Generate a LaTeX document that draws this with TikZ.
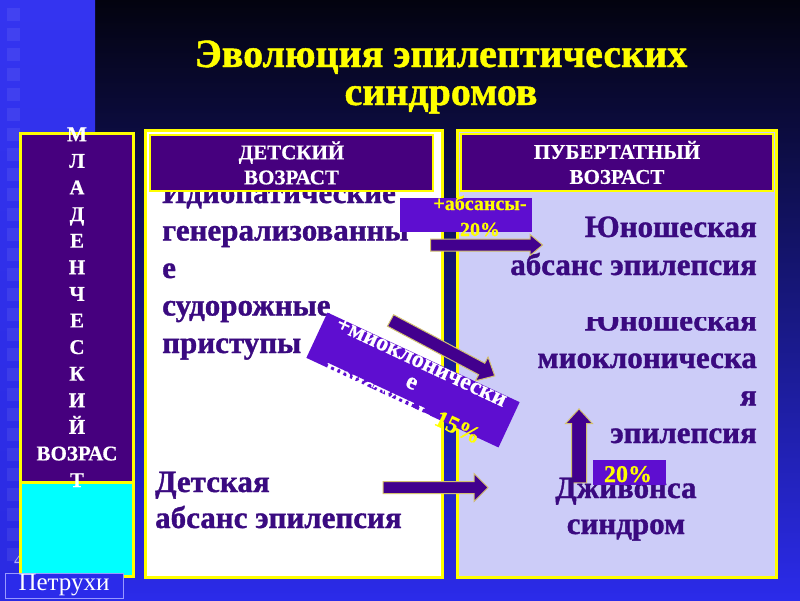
\documentclass[tikz,border=0pt]{standalone}
\usepackage{fontspec}
\setmainfont{Liberation Serif}
\newfontfamily\heavy{Liberation Serif}[BoldFeatures={FakeBold=1.2}]
\newfontfamily\semiheavy{Liberation Serif}[BoldFeatures={FakeBold=0.6}]
\usetikzlibrary{shapes.arrows}
\definecolor{bgtop}{HTML}{03030F}
\definecolor{bgmid}{HTML}{10105A}
\definecolor{bgbot}{HTML}{2B2BEA}
\definecolor{striptop}{HTML}{3434F0}
\definecolor{stripmid}{HTML}{16166E}
\definecolor{stripbot}{HTML}{2A2AE2}
\definecolor{boxpurple}{HTML}{46007E}
\definecolor{txtpurple}{HTML}{3A0A80}
\definecolor{violet}{HTML}{5E0ED0}
\definecolor{lavender}{HTML}{CCCCF8}
\definecolor{aqua}{HTML}{00FFFF}
\definecolor{arrowfill}{HTML}{42008E}
\definecolor{arrowedge}{HTML}{D2C070}
\definecolor{ylw}{HTML}{FFFF00}
\tikzset{
  panel/.style={draw=ylw, line width=3pt, inner sep=0pt},
  header/.style={draw=ylw, line width=2pt, fill=boxpurple, text=white, align=center, inner sep=0pt,
    font=\semiheavy\bfseries\fontsize{21}{25}\selectfont},
  bigtxt/.style={text=txtpurple, inner sep=0pt, font=\heavy\bfseries\fontsize{31}{37.5}\selectfont},
  lblbox/.style={fill=violet, inner sep=0pt},
  ylwtxt/.style={text=ylw, inner sep=0pt, align=center},
  blockarrow/.style={single arrow, draw=arrowedge, fill=arrowfill, line width=1pt,
    inner xsep=0pt, single arrow head indent=0pt},
}
\begin{document}
\begin{tikzpicture}[x=1pt,y=-1pt]
\useasboundingbox (0,0) rectangle (800,600);
% background
\shade[top color=bgtop, middle color=bgmid, bottom color=bgbot] (0,0) rectangle (800,600);
\shade[top color=striptop, middle color=stripmid, bottom color=stripbot] (0,0) rectangle (95,600);
\foreach \i in {0,...,27} \fill[white, opacity=0.07] (7,{8+20*\i}) rectangle (20,{21+20*\i});
\node[text=white!70!blue, inner sep=0pt, anchor=base west, font=\fontsize{20}{20}\selectfont] (slidenum) at (14,566) {4};
% title (anchor base = last line)
\node[ylwtxt, anchor=base, font=\heavy\bfseries\fontsize{40}{38}\selectfont] (title) at (441,105)
  {Эволюция эпилептических\\синдромов};
% left panel
\node[panel, fill=aqua, minimum width=113pt, minimum height=94pt] (infcyan) at (76.5,529) {};
\node[panel, fill=boxpurple, minimum width=113pt, minimum height=349pt] (infant) at (76.5,307.5) {};
\node[text=white, inner sep=0pt, anchor=base, align=center, font=\semiheavy\bfseries\fontsize{21}{26.6}\selectfont] (inftxt) at (77,487)
  {М\\Л\\А\\Д\\Е\\Н\\Ч\\Е\\С\\К\\И\\Й\\ВОЗРАС\\Т};
% middle and right panels
\node[panel, fill=white, minimum width=297pt, minimum height=447pt] (child) at (293.5,353.5) {};
\node[panel, fill=lavender, minimum width=319pt, minimum height=447pt] (puber) at (616.5,353.5) {};
% texts
\node[bigtxt, anchor=base west, align=left] (idio) at (162,353)
  {Идиопатические\\генерализованны\\е\\судорожные\\приступы};
\node[bigtxt, anchor=base west, align=left, font=\heavy\bfseries\fontsize{31}{36}\selectfont] (childabs) at (155,528)
  {Детская\\абсанс эпилепсия};
\node[bigtxt, anchor=base east, align=right] (juvmyo) at (757,443)
  {Юношеская\\миоклоническа\\я\\эпилепсия};
\fill[lavender] (505,290) rectangle (772,317);
\node[bigtxt, anchor=base east, align=right, font=\heavy\bfseries\fontsize{31}{38}\selectfont] (juvabs) at (757,275)
  {Юношеская\\абсанс эпилепсия};
% headers
\node[header, minimum width=283pt, minimum height=56pt] (hchild) at (291.5,163) {ДЕТСКИЙ\\ВОЗРАСТ};
\node[header, minimum width=312pt, minimum height=57pt] (hpuber) at (617,162.5) {ПУБЕРТАТНЫЙ\\ВОЗРАСТ};
% arrows
\node[blockarrow, inner ysep=5.5pt, single arrow head extend=4.5pt, single arrow tip angle=80, minimum height=112pt] (arrabs) at (483,245) {};
\node[blockarrow, inner ysep=6pt, single arrow head extend=7pt, single arrow tip angle=85, minimum height=118pt, rotate=-28] (arrmyo) at (439.5,346.5) {};
\node[blockarrow, inner ysep=5.5pt, single arrow head extend=8pt, single arrow tip angle=90, minimum height=105pt] (arrchild) at (432.5,487.5) {};
\node[blockarrow, inner ysep=7pt, single arrow head extend=6pt, single arrow tip angle=85, minimum height=74pt, rotate=90] (arrjeav) at (579,450) {};
% jeavons
\node[bigtxt, anchor=base, align=center, font=\heavy\bfseries\fontsize{31}{36}\selectfont] (jeavons) at (626,534)
  {Дживонса\\синдром};
% label boxes
\node[lblbox, minimum width=132pt, minimum height=34pt] (absbox) at (466,215) {};
\node[ylwtxt, anchor=base, font=\semiheavy\bfseries\fontsize{20}{26}\selectfont] (abstxt) at (480,236) {+абсансы-\\20\%};
\node[lblbox, minimum width=73pt, minimum height=25pt] (pctbox) at (629.5,472.5) {};
\node[ylwtxt, anchor=base, font=\semiheavy\bfseries\fontsize{24}{24}\selectfont] (pcttxt) at (628,482) {20\%};
\node[lblbox, minimum width=212pt, minimum height=50pt, rotate=-25] (myobox) at (413,380) {};
\node[text=white, inner sep=0pt, align=center, rotate=-25, font=\semiheavy\bfseries\fontsize{24}{22.5}\selectfont] (myotxt) at (411,384.5)
  {+миоклонически\\е\\приступы- \textcolor{ylw}{15\%}};
% author
\node[draw=white!60!blue, line width=1pt, fill=bgbot, text=white, inner sep=0pt, minimum width=118pt, minimum height=25pt,
  font=\fontsize{25}{25}\selectfont] (author) at (64,585.5) {Петрухи};
\end{tikzpicture}
\end{document}
